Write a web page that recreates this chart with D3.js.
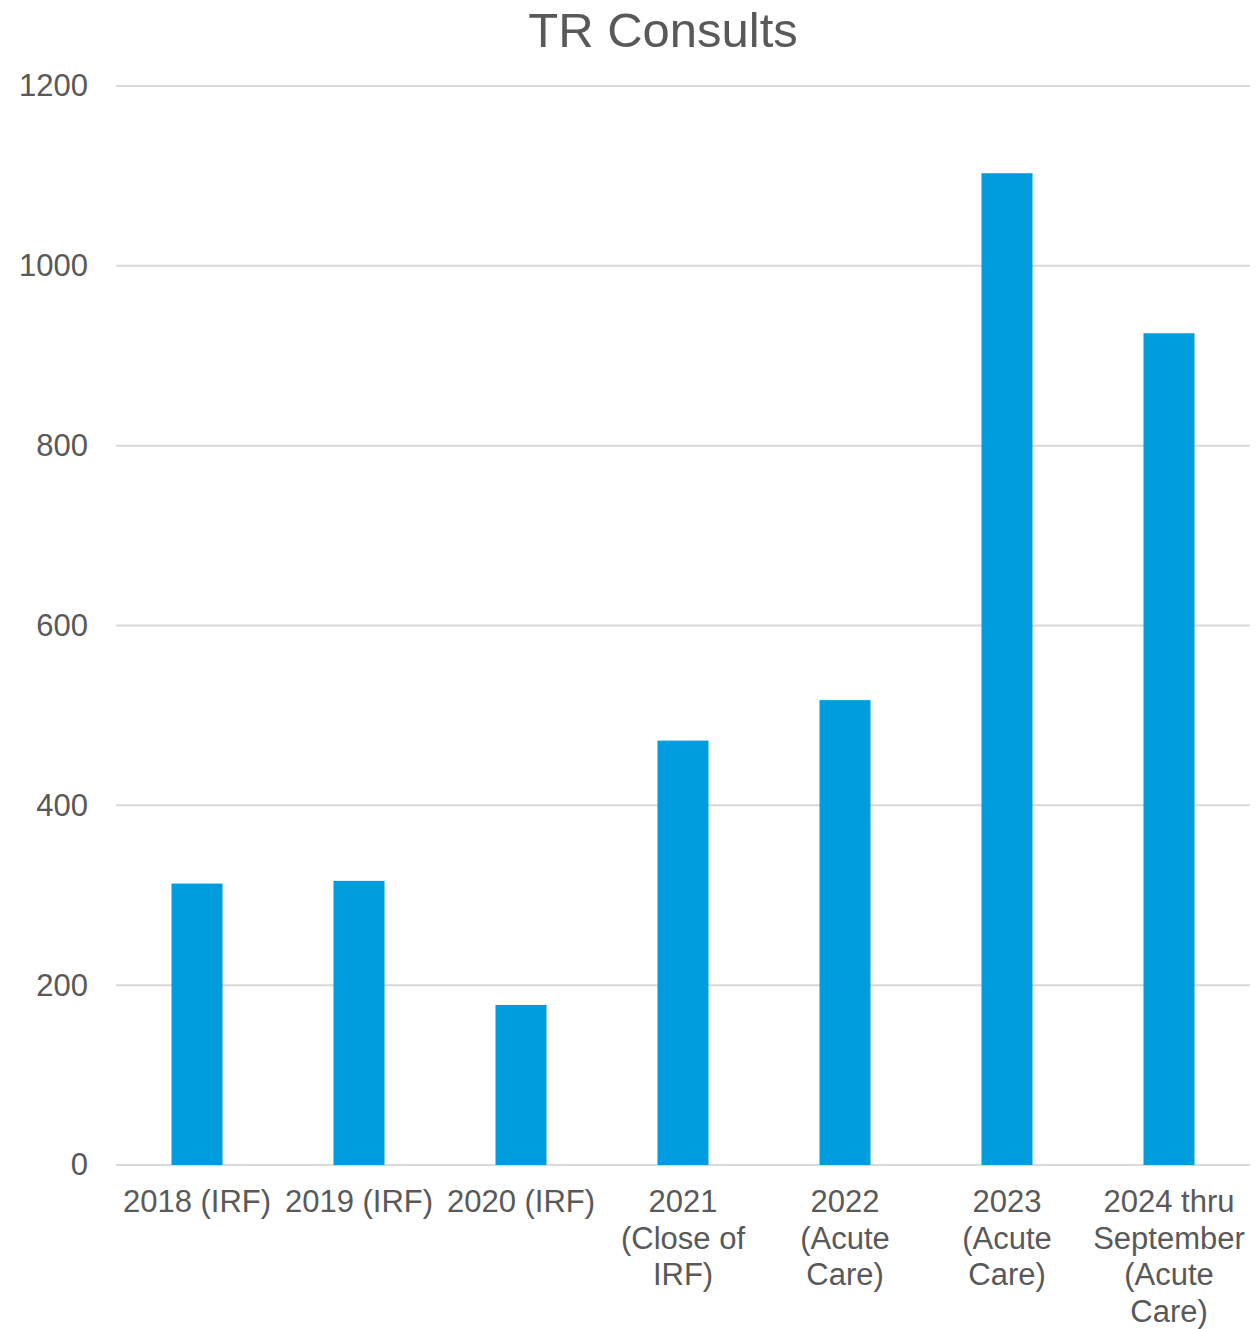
<!DOCTYPE html>
<html>
<head>
<meta charset="utf-8">
<script src="https://cdnjs.cloudflare.com/ajax/libs/d3/7.8.5/d3.min.js"></script>
<style>
  body { margin: 0; background: #fff; }
  text { font-family: "Liberation Sans", Arial, sans-serif; fill: #595959; }
</style>
</head>
<body>
<div id="chart"></div>
<script>
var categories = ["2018", "2019", "2020", "2021", "2022", "2023", "2024"];
var labelLines = [
  ["2018 (IRF)"],
  ["2019 (IRF)"],
  ["2020 (IRF)"],
  ["2021", "(Close of", "IRF)"],
  ["2022", "(Acute", "Care)"],
  ["2023", "(Acute", "Care)"],
  ["2024 thru", "September", "(Acute", "Care)"]
];
var consults = [313, 316, 178, 472, 517, 1103, 925];
var yTicks = [0, 200, 400, 600, 800, 1000, 1200];

var svgWidth = 1259;
var svgHeight = 1329;

var margin = { top: 86, right: 9, bottom: 164, left: 116 };
var width = svgWidth - margin.left - margin.right;
var height = svgHeight - margin.top - margin.bottom;

var svg = d3.select("#chart").append("svg")
  .attr("width", svgWidth)
  .attr("height", svgHeight);

svg.append("text")
  .attr("x", 663)
  .attr("y", 47)
  .attr("text-anchor", "middle")
  .attr("font-size", "49px")
  .text("TR Consults");

var chartGroup = svg.append("g")
  .attr("transform", `translate(${margin.left}, ${margin.top})`);

var x = d3.scaleBand()
  .domain(categories)
  .range([0, width])
  .paddingInner(0.685)
  .paddingOuter(0.3425);

var y = d3.scaleLinear()
  .domain([0, 1200])
  .range([height, 0]);

// gridlines
chartGroup.append("g")
  .selectAll("line")
  .data(yTicks)
  .enter()
  .append("line")
  .attr("x1", 0)
  .attr("x2", width)
  .attr("y1", d => y(d))
  .attr("y2", d => y(d))
  .attr("stroke", "#d9d9d9")
  .attr("stroke-width", 2);

// y labels
var leftAxis = d3.axisLeft(y)
  .tickValues(yTicks)
  .tickFormat(d3.format("d"))
  .tickSize(0)
  .tickPadding(28);
var yAxis = chartGroup.append("g").call(leftAxis);
yAxis.select(".domain").remove();
yAxis.selectAll("text")
  .attr("font-size", "31px")
  .attr("fill", "#595959")
  .attr("font-family", "Liberation Sans, Arial, sans-serif");

// bars
chartGroup.selectAll("rect")
  .data(consults)
  .enter()
  .append("rect")
  .attr("x", (d, i) => x(categories[i]))
  .attr("y", d => y(d))
  .attr("width", x.bandwidth())
  .attr("height", d => height - y(d))
  .attr("fill", "#009dde");

// category labels
var xLabels = chartGroup.append("g")
  .attr("transform", `translate(0, ${height})`);

xLabels.selectAll("text")
  .data(labelLines)
  .enter()
  .append("text")
  .attr("text-anchor", "middle")
  .attr("font-size", "31px")
  .attr("transform", (d, i) => `translate(${x(categories[i]) + x.bandwidth() / 2}, 47)`)
  .each(function(lines) {
    var t = d3.select(this);
    lines.forEach(function(line, j) {
      t.append("tspan")
        .attr("x", 0)
        .attr("y", j * 36.7)
        .text(line);
    });
  });
</script>
</body>
</html>
